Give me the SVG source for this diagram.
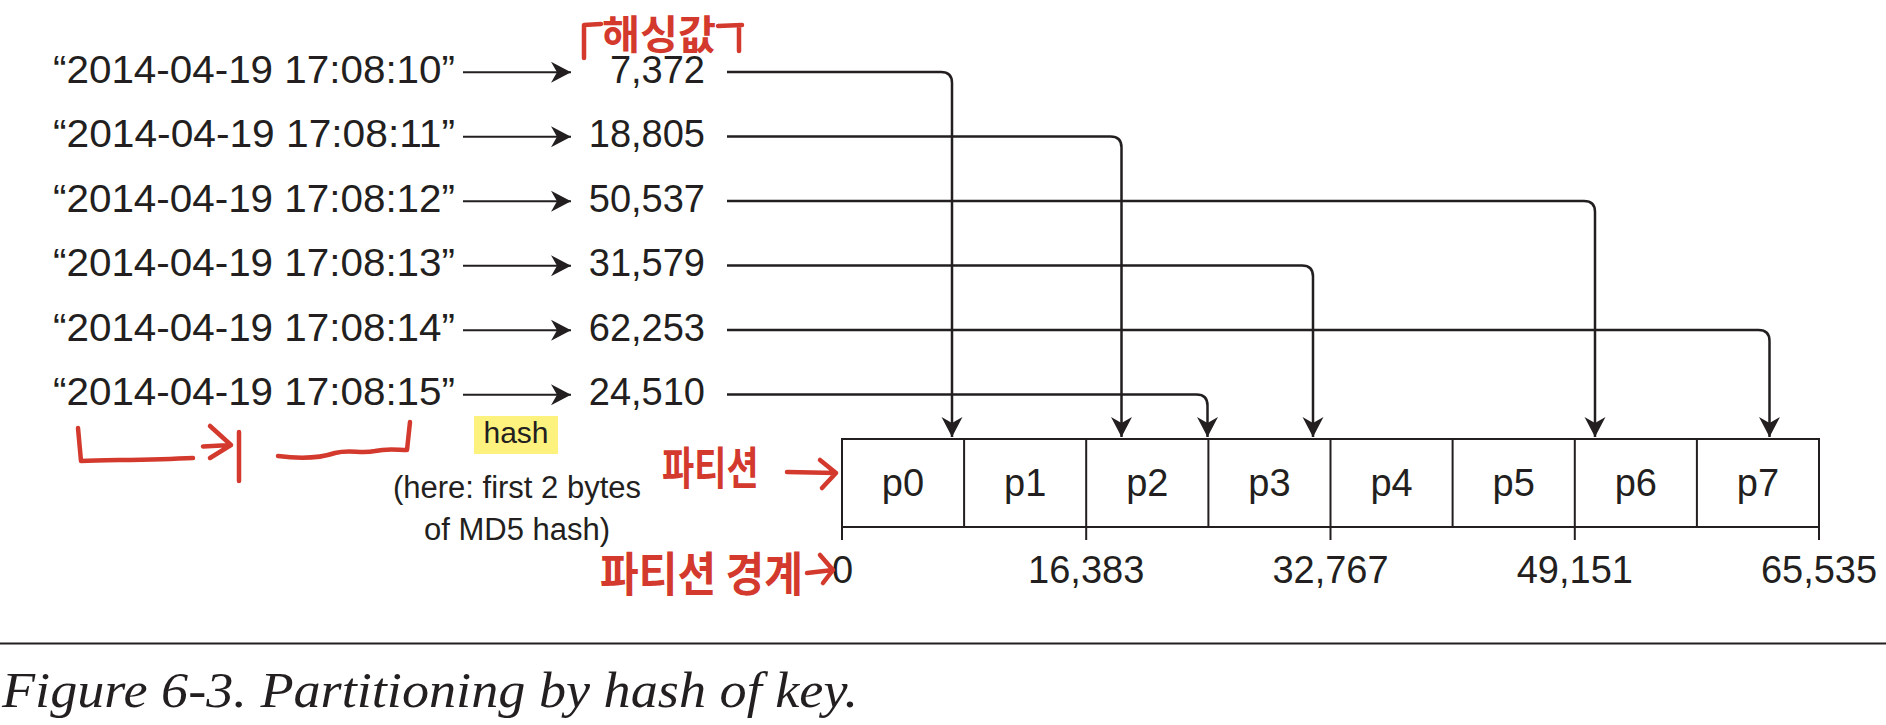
<svg xmlns="http://www.w3.org/2000/svg" width="1886" height="725" viewBox="0 0 1886 725">
<style>
.t{font-family:"Liberation Sans",Arial,sans-serif;fill:#231f20}
.k{font-size:38px}
.s{font-size:31px}
.ln{stroke:#231f20;stroke-width:2.5;fill:none}
.ar{stroke:#231f20;stroke-width:2;fill:none}
.red{stroke:#d3392c;stroke-width:4.5;fill:none;stroke-linecap:round;stroke-linejoin:round}
.rt{font-family:"Noto Sans CJK KR",sans-serif;font-weight:700;fill:#d3392c}
.cap{font-family:"Liberation Serif","Times New Roman",serif;font-style:italic;font-size:50px;fill:#231f20}
</style>
<defs>
<marker id="ah" markerUnits="userSpaceOnUse" markerWidth="24" markerHeight="24" viewBox="-21 -12 23 24" refX="0" refY="0" orient="auto">
<path d="M0,0 L-20,-10.5 L-14,0 L-20,10.5 Z" fill="#231f20"/>
</marker>
</defs>
<rect width="1886" height="725" fill="#ffffff"/>

<g id="keys">
<text class="t k" x="53" y="82.5" textLength="402" lengthAdjust="spacingAndGlyphs">“2014-04-19 17:08:10”</text>
<text class="t k" x="53" y="147" textLength="402" lengthAdjust="spacingAndGlyphs">“2014-04-19 17:08:11”</text>
<text class="t k" x="53" y="211.5" textLength="402" lengthAdjust="spacingAndGlyphs">“2014-04-19 17:08:12”</text>
<text class="t k" x="53" y="276" textLength="402" lengthAdjust="spacingAndGlyphs">“2014-04-19 17:08:13”</text>
<text class="t k" x="53" y="340.5" textLength="402" lengthAdjust="spacingAndGlyphs">“2014-04-19 17:08:14”</text>
<text class="t k" x="53" y="405" textLength="402" lengthAdjust="spacingAndGlyphs">“2014-04-19 17:08:15”</text>
</g>

<g id="hashes">
<text class="t k" x="705" y="82.5" text-anchor="end">7,372</text>
<text class="t k" x="705" y="147" text-anchor="end">18,805</text>
<text class="t k" x="705" y="211.5" text-anchor="end">50,537</text>
<text class="t k" x="705" y="276" text-anchor="end">31,579</text>
<text class="t k" x="705" y="340.5" text-anchor="end">62,253</text>
<text class="t k" x="705" y="405" text-anchor="end">24,510</text>
</g>

<g id="hash-label">
<rect x="474" y="416" width="84" height="38" fill="#fdf27e"/>
<text class="t" x="516" y="443" font-size="30" text-anchor="middle">hash</text>
<text class="t s" x="517" y="498" text-anchor="middle">(here: first 2 bytes</text>
<text class="t s" x="517" y="540" text-anchor="middle">of MD5 hash)</text>
</g>

<g id="partitions">
<rect x="842" y="439" width="977" height="88" class="ar"/>
<path class="ar" d="M964.1,439V527M1086.2,439V527M1208.4,439V527M1330.5,439V527M1452.6,439V527M1574.8,439V527M1696.9,439V527"/>
<path class="ar" d="M842,527V540M1086.2,527V540M1330.5,527V540M1574.8,527V540M1819,527V540"/>
<text class="t k" x="903" y="496" text-anchor="middle">p0</text>
<text class="t k" x="1025.2" y="496" text-anchor="middle">p1</text>
<text class="t k" x="1147.3" y="496" text-anchor="middle">p2</text>
<text class="t k" x="1269.4" y="496" text-anchor="middle">p3</text>
<text class="t k" x="1391.6" y="496" text-anchor="middle">p4</text>
<text class="t k" x="1513.7" y="496" text-anchor="middle">p5</text>
<text class="t k" x="1635.8" y="496" text-anchor="middle">p6</text>
<text class="t k" x="1758" y="496" text-anchor="middle">p7</text>
</g>

<g id="boundaries">
<text class="t k" x="842.5" y="583" text-anchor="middle">0</text>
<text class="t k" x="1086.2" y="583" text-anchor="middle">16,383</text>
<text class="t k" x="1330.5" y="583" text-anchor="middle">32,767</text>
<text class="t k" x="1574.8" y="583" text-anchor="middle">49,151</text>
<text class="t k" x="1819" y="583" text-anchor="middle">65,535</text>
</g>

<g id="connectors">
<path class="ar" marker-end="url(#ah)" d="M463,72.3H571"/>
<path class="ar" marker-end="url(#ah)" d="M463,136.8H571"/>
<path class="ar" marker-end="url(#ah)" d="M463,201.3H571"/>
<path class="ar" marker-end="url(#ah)" d="M463,265.8H571"/>
<path class="ar" marker-end="url(#ah)" d="M463,330.3H571"/>
<path class="ar" marker-end="url(#ah)" d="M463,394.8H571"/>
<path class="ln" marker-end="url(#ah)" d="M727,72H941Q952,72 952,83V437"/>
<path class="ln" marker-end="url(#ah)" d="M727,136.5H1110.5Q1121.5,136.5 1121.5,147.5V437"/>
<path class="ln" marker-end="url(#ah)" d="M727,201H1584Q1595,201 1595,212V437"/>
<path class="ln" marker-end="url(#ah)" d="M727,265.5H1302Q1313,265.5 1313,276.5V437"/>
<path class="ln" marker-end="url(#ah)" d="M727,330H1758.5Q1769.5,330 1769.5,341V437"/>
<path class="ln" marker-end="url(#ah)" d="M727,394.5H1196.5Q1207.5,394.5 1207.5,405.5V437"/>
</g>

<g id="annotations">
<path class="red" d="M584,58L584,25L601,24M718,26L742,25M739,26L739,51"/>
<text class="rt" x="602" y="49" font-size="40" textLength="114" lengthAdjust="spacingAndGlyphs">해싱값</text>
<path class="red" d="M78,428L81,461C110,460 150,460 193,458M203,446.5L231,445M210,426L231,445L210,458M239,432L239,481"/>
<path class="red" d="M278,456C300,459 320,458 335,453C350,449 360,454 375,451C388,448 398,450 407,450L410,422"/>
<text class="rt" font-size="35" transform="translate(662,485) scale(1,1.3)">파티션</text>
<path class="red" d="M787,472L836,473M820,460L836,473L822,488"/>
<text class="rt" font-size="37" transform="translate(600,591) scale(1,1.25)" textLength="203" lengthAdjust="spacingAndGlyphs">파티션 경계</text>
<path class="red" d="M807,573L833,570M820,555L833,570L823,583"/>
</g>

<g id="caption">
<path d="M0,643.5H1886" stroke="#231f20" stroke-width="2"/>
<text class="cap" x="2" y="707" textLength="856" lengthAdjust="spacingAndGlyphs">Figure 6-3. Partitioning by hash of key.</text>
</g>
</svg>
